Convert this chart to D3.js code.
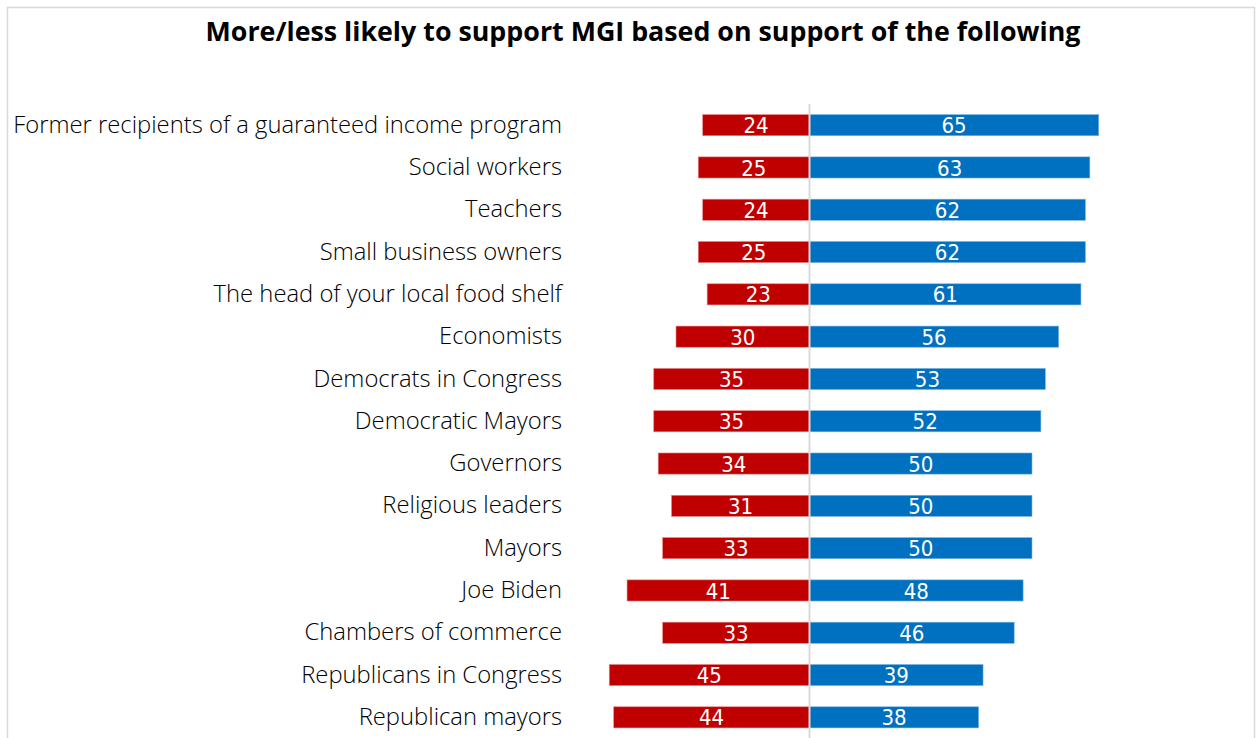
<!DOCTYPE html>
<html><head><meta charset="utf-8">
<script src="https://cdn.jsdelivr.net/npm/d3@7"></script>
<style>
html,body{margin:0;padding:0;background:#fff;}
svg{display:block;}
</style></head>
<body>
<svg id="chart" width="1257" height="738"></svg>
<script>
const title = "More/less likely to support MGI based on support of the following";
const categories = [
  "Former recipients of a guaranteed income program",
  "Social workers",
  "Teachers",
  "Small business owners",
  "The head of your local food shelf",
  "Economists",
  "Democrats in Congress",
  "Democratic Mayors",
  "Governors",
  "Religious leaders",
  "Mayors",
  "Joe Biden",
  "Chambers of commerce",
  "Republicans in Congress",
  "Republican mayors"
];
const lessLikely = [24, 25, 24, 25, 23, 30, 35, 35, 34, 31, 33, 41, 33, 45, 44];
const moreLikely = [65, 63, 62, 62, 61, 56, 53, 52, 50, 50, 50, 48, 46, 39, 38];

const W = 1257, H = 738;
const svg = d3.select("#chart");

// chart border
svg.append("rect").attr("x", 7.5).attr("y", 7.5).attr("width", 1247).attr("height", 760)
  .attr("fill", "#fff").attr("stroke", "#d9d9d9").attr("stroke-width", 1.5);

svg.append("text").attr("x", 643).attr("y", 41).attr("text-anchor", "middle")
  .attr("font-family", "'Open Sans', sans-serif").attr("font-weight", 700)
  .attr("font-size", 26.8).attr("fill", "#000").text(title);

const x = d3.scaleLinear().domain([-100, 100]).range([809.5 - 445, 809.5 + 445]);
const y = d3.scaleBand().domain(categories).range([104, 738.5]).paddingInner(0.5).paddingOuter(0.25);

const rows = categories.map((c, i) => ({c, less: lessLikely[i], more: moreLikely[i]}));

const g = svg.append("g");
g.selectAll("rect.less").data(rows).join("rect").attr("class", "less")
  .attr("x", d => x(-d.less)).attr("y", d => y(d.c))
  .attr("width", d => x(0) - x(-d.less)).attr("height", y.bandwidth())
  .attr("fill", "#C00000").attr("stroke", "#e58a8a").attr("stroke-width", 0.6);
g.selectAll("rect.more").data(rows).join("rect").attr("class", "more")
  .attr("x", x(0)).attr("y", d => y(d.c))
  .attr("width", d => x(d.more) - x(0)).attr("height", y.bandwidth())
  .attr("fill", "#0070C0").attr("stroke", "#7fb5e0").attr("stroke-width", 0.6);

// center axis line
svg.append("line").attr("x1", x(0)).attr("x2", x(0)).attr("y1", 104).attr("y2", H)
  .attr("stroke", "#d9d9d9").attr("stroke-width", 2);

const valFont = "'DejaVu Sans Condensed', sans-serif";
g.selectAll("text.lessv").data(rows).join("text")
  .attr("x", d => (x(-d.less) + x(0)) / 2).attr("y", d => y(d.c) + y.bandwidth() / 2)
  .attr("dy", "0.37em").attr("text-anchor", "middle")
  .attr("font-family", valFont).attr("font-size", 22).attr("font-weight", 400).attr("fill", "#fff")
  .text(d => d.less);
g.selectAll("text.morev").data(rows).join("text")
  .attr("x", d => (x(d.more) + x(0)) / 2).attr("y", d => y(d.c) + y.bandwidth() / 2)
  .attr("dy", "0.37em").attr("text-anchor", "middle")
  .attr("font-family", valFont).attr("font-size", 22).attr("font-weight", 400).attr("fill", "#fff")
  .text(d => d.more);

// category axis
const axis = svg.append("g").attr("transform", "translate(562,0)")
  .call(d3.axisLeft(y).tickSize(0).tickPadding(0));
axis.select(".domain").remove();
axis.selectAll("text").attr("font-family", "'Open Sans', sans-serif").attr("font-weight", 300)
  .attr("font-size", 23.8).attr("fill", "#000").attr("dy", "0.32em");
</script>
</body></html>
